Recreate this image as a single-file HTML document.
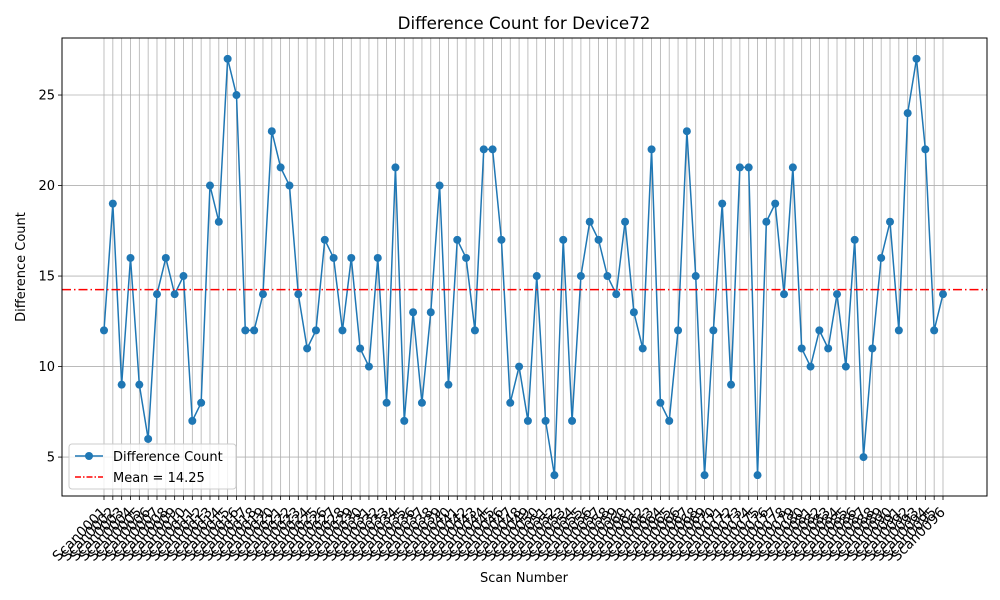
<!DOCTYPE html>
<html><head><meta charset="utf-8"><style>
body{margin:0;background:#fff;}
svg{display:block;font-family:"DejaVu Sans","Liberation Sans",sans-serif;}
</style></head><body>
<svg id="chart" width="1000" height="600">
<rect x="0" y="0" width="1000" height="600" fill="#fff"/>
<text x="524" y="29" font-size="16.7" text-anchor="middle">Difference Count for Device72</text>
<g id="grid"></g>
<g id="xticks"></g>
<g id="yticks"></g>
<g id="series"></g>
<rect x="62" y="38" width="925" height="458" fill="none" stroke="#000" stroke-width="1"/>
<text x="524" y="582" font-size="13" text-anchor="middle">Scan Number</text>
<text transform="translate(25,267) rotate(-90)" font-size="13" text-anchor="middle">Difference Count</text>
<g>
<rect x="69" y="444" width="167" height="45" rx="3" fill="#fff" fill-opacity="0.8" stroke="#ccc"/>
<g>
<line x1="75" y1="456" x2="103" y2="456" stroke="#1f77b4" stroke-width="1.5"/>
<circle cx="89" cy="456" r="4" fill="#1f77b4"/>
<text x="113" y="461" font-size="13">Difference Count</text></g>
<g>
<line x1="75" y1="477" x2="103" y2="477" stroke="red" stroke-width="1.5" stroke-dasharray="6,2,1.5,2"/>
<text x="113" y="482" font-size="13">Mean = 14.25</text></g>
</g>
</svg>
<script>
const values=[12,19,9,16,9,6,14,16,14,15,7,8,20,18,27,25,12,12,14,23,21,20,14,11,12,17,16,12,16,11,10,16,8,21,7,13,8,13,20,9,17,16,12,22,22,17,8,10,7,15,7,4,17,7,15,18,17,15,14,18,13,11,22,8,7,12,23,15,4,12,19,9,21,21,4,18,19,14,21,11,10,12,11,14,10,17,5,11,16,18,12,24,27,22,12,14];
const categories=values.map((v,i)=>'Scan'+String(i+1).padStart(4,'0'));
const yTicks=[5,10,15,20,25];
const meanValue=14.25;
const NS='http://www.w3.org/2000/svg';
const L=62,R=987,T=38,B=496,yMin=2.85,yMax=28.15;
function xs(i){return 104+i*(943-104)/(categories.length-1);}
function ys(v){return B-(v-yMin)/(yMax-yMin)*(B-T);}
function mk(tag,attrs,parent){const e=document.createElementNS(NS,tag);for(const k in attrs)e.setAttribute(k,attrs[k]);parent.appendChild(e);return e;}
const grid=document.getElementById('grid'),xt=document.getElementById('xticks'),yt=document.getElementById('yticks'),se=document.getElementById('series');
categories.forEach((c,i)=>{
  const x=xs(i);
  const g=mk('line',{x1:x,y1:T,x2:x,y2:B,stroke:'#b0b0b0','stroke-width':0.8},grid);
  
  
  mk('line',{x1:x,y1:B,x2:x,y2:B+4,stroke:'#000','stroke-width':0.8},xt);
  const t=mk('text',{x:0,y:0,'font-size':13.9,'text-anchor':'end',transform:`translate(${x+3},${B+17}) rotate(-45)`},xt);
  t.textContent=c;
  
  
});
yTicks.forEach(v=>{
  const y=ys(v);
  const g=mk('line',{x1:L,y1:y,x2:R,y2:y,stroke:'#b0b0b0','stroke-width':0.8},grid);
  
  
  mk('line',{x1:L-4,y1:y,x2:L,y2:y,stroke:'#000','stroke-width':0.8},yt);
  const t=mk('text',{x:L-7,y:y+4.5,'font-size':13,'text-anchor':'end'},yt);
  t.textContent=v;
  
  
});
const pl=mk('polyline',{points:values.map((v,i)=>xs(i)+','+ys(v)).join(' '),fill:'none',stroke:'#1f77b4','stroke-width':1.5},se);


values.forEach((v,i)=>{
  const c=mk('circle',{cx:xs(i),cy:ys(v),r:4,fill:'#1f77b4'},se);
  
  
});
const ml=mk('line',{x1:L,y1:ys(meanValue),x2:R,y2:ys(meanValue),stroke:'red','stroke-width':1.5,'stroke-dasharray':'9,3,1.5,3'},se);


</script>
</body></html>
